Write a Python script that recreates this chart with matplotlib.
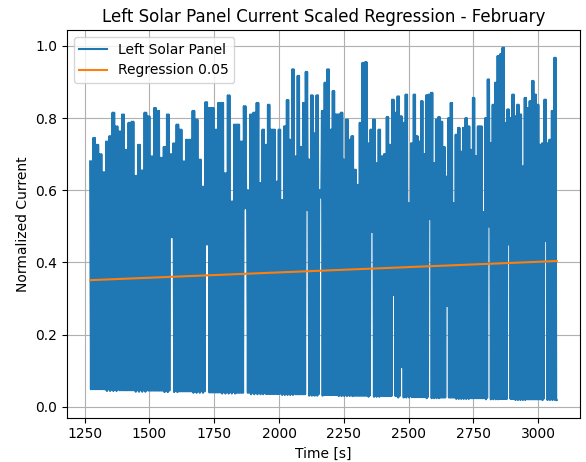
import matplotlib
matplotlib.use("Agg")
import matplotlib.pyplot as plt
import numpy as np

# Normalized current tops, one value per burst, in three time blocks
peaks_a = [
    0.68, 0.745, 0.726, 0.70, 0.65, 0.735, 0.75, 0.815, 0.777, 0.763,
    0.81, 0.712, 0.787, 0.79, 0.64, 0.726, 0.655, 0.815, 0.805, 0.694,
    0.828, 0.82, 0.69, 0.72, 0.81, 0.70, 0.73, 0.782, 0.768, 0.68,
    0.74, 0.74, 0.82, 0.796, 0.685, 0.61, 0.844, 0.828, 0.828, 0.768,
    0.842, 0.842, 0.647, 0.863, 0.569, 0.782, 0.782, 0.735, 0.833, 0.60,
    0.81, 0.815, 0.842,
]
peaks_b = [
    0.62, 0.768, 0.726, 0.837, 0.768, 0.768, 0.624, 0.768, 0.573, 0.777,
    0.85, 0.74, 0.935, 0.694, 0.917, 0.72, 0.842, 0.928, 0.685, 0.863,
    0.758, 0.863, 0.60, 0.82, 0.898, 0.935, 0.768, 0.875, 0.81, 0.81,
    0.815, 0.685, 0.796, 0.74, 0.75, 0.657, 0.615, 0.787, 0.953, 0.955,
    0.73, 0.768, 0.796, 0.675, 0.768, 0.694, 0.70, 0.803, 0.726, 0.851,
    0.815, 0.86, 0.805, 0.787, 0.865, 0.564, 0.73,
]
peaks_c = [
    0.865, 0.75, 0.735, 0.847, 0.70, 0.863, 0.865, 0.87, 0.675, 0.796,
    0.803, 0.79, 0.72, 0.638, 0.80, 0.842, 0.564, 0.754, 0.773, 0.707,
    0.773, 0.80, 0.777, 0.712, 0.856, 0.694, 0.777, 0.777, 0.54, 0.80,
    0.907, 0.73, 0.837, 0.898, 0.972, 0.977, 0.995, 0.787, 0.824, 0.80,
    0.865, 0.805, 0.837, 0.81, 0.666, 0.856, 0.828, 0.847, 0.903, 0.865,
    0.837, 0.726, 0.73, 0.851, 0.73, 0.74, 0.82, 0.967,
]
block_edges = [1271, 1926, 2520, 3072]

# Night-time floor, left to right
floor_levels = [0.049, 0.044, 0.046, 0.042, 0.045, 0.041, 0.043, 0.039,
                0.040, 0.037, 0.039, 0.035, 0.036, 0.033, 0.035, 0.031,
                0.033, 0.030, 0.031, 0.028, 0.030, 0.026, 0.027, 0.024,
                0.026, 0.022, 0.024, 0.021, 0.022, 0.019, 0.021, 0.019]

# Short stretches where the current never drops to the floor
gap_times = [1585, 1718, 1868, 2100, 2153, 2354, 2432, 2467, 2573, 2645,
             2801, 2880, 3028]
gap_levels = [0.47, 0.45, 0.55, 0.545, 0.58, 0.485, 0.31, 0.11, 0.52, 0.28,
              0.50, 0.45, 0.46]

# Fitted regression line end values
reg_values = [0.351, 0.404]


def build_signal():
    tooth_t, tooth_dt, tooth_p = [], [], []
    for peaks, t0, t1 in zip([peaks_a, peaks_b, peaks_c],
                             block_edges[:-1], block_edges[1:]):
        dt = (t1 - t0) / len(peaks)
        for i, p in enumerate(peaks):
            tooth_t.append(t0 + i * dt)
            tooth_dt.append(dt)
            tooth_p.append(p)
    tooth_t = np.array(tooth_t)

    # two floor samples per burst, picked from the floor table by position
    span = block_edges[-1] - block_edges[0]
    lows = []
    for t, dt in zip(tooth_t, tooth_dt):
        pair = []
        for k in (1, 3):
            frac = (t + k * dt / 4 - block_edges[0]) / span
            idx = min(int(frac * len(floor_levels)), len(floor_levels) - 1)
            pair.append(floor_levels[idx] + 0.004 * (k == 3) * (idx % 2))
        lows.append(pair)
    for gt, gl in zip(gap_times, gap_levels):
        k = int(np.argmin(np.abs(tooth_t - gt)))
        lows[k] = [gl, gl]

    t_out, y_out = [], []
    for t, dt, p, (lo1, lo2) in zip(tooth_t, tooth_dt, tooth_p, lows):
        t_out += [t, t + dt / 4, t + dt / 2, t + 3 * dt / 4]
        y_out += [p, lo1, p, lo2]
    t_out.append(block_edges[-1])
    y_out.append(floor_levels[-1])
    return np.array(t_out), np.array(y_out)


time, current = build_signal()

fig, ax = plt.subplots(figsize=(5.86, 4.62), dpi=100)
fig.subplots_adjust(left=0.114, right=0.99, bottom=0.096, top=0.935)

ax.plot(time, current, label="Left Solar Panel")
ax.plot([time[0], time[-1]], reg_values, label="Regression 0.05")

ax.set_title("Left Solar Panel Current Scaled Regression - February")
ax.set_xlabel("Time [s]")
ax.set_ylabel("Normalized Current")
ax.grid(True)
ax.legend(loc="upper left")

fig.savefig("out.png", dpi=100)
